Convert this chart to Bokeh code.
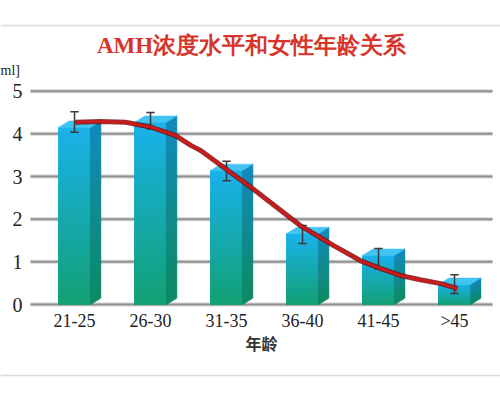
from bokeh.plotting import figure
from bokeh.models import Range1d, FixedTicker
from bokeh.core.properties import value
from bokeh.embed import file_html
from bokeh.resources import INLINE

# ---- data ----
categories = ["21-25", "26-30", "31-35", "36-40", "41-45", ">45"]
bar_values = [4.15, 4.27, 3.14, 1.66, 1.15, 0.47]
err_low = [4.04, 4.12, 2.90, 1.43, 0.84, 0.26]
err_high = [4.52, 4.50, 3.36, 1.85, 1.31, 0.70]
curve_pos = [0.01, 0.34, 0.67, 1.00, 1.33, 1.53, 1.66, 2.05, 2.32, 2.97,
             3.41, 3.76, 4.03, 4.29, 4.55, 4.82, 5.04]
curve_val = [4.27, 4.29, 4.27, 4.16, 3.96, 3.73, 3.61, 3.10, 2.75, 1.85,
             1.38, 1.03, 0.84, 0.68, 0.58, 0.49, 0.37]
y_ticks = [0, 1, 2, 3, 4, 5]
title_text = "AMH浓度水平和女性年龄关系"
x_title = "年龄"
unit_text = "ml]"

# ---- layout constants ----
X0, X1 = -0.974, 5.605
Y0, Y1 = -2.25, 7.125
AX_LEFT = -0.579
GRID_RIGHT = 5.5
HALF = 0.21
DX, DY = 0.135, 0.15
N = 40

p = figure(width=500, height=400, output_backend="svg", toolbar_location=None,
           x_range=Range1d(X0, X1), y_range=Range1d(Y0, Y1),
           min_border=0, outline_line_color=None)
p.xgrid.visible = False
p.ygrid.visible = False
p.background_fill_color = "white"
p.border_fill_color = "white"

# page rules
p.segment(x0=[X0, X0], y0=[6.539, -1.664], x1=[X1, X1], y1=[6.539, -1.664],
          line_color="#dcdcdc", line_width=1.5)

# grid lines
p.segment(x0=[AX_LEFT] * len(y_ticks), y0=y_ticks, x1=[GRID_RIGHT] * len(y_ticks),
          y1=y_ticks, line_color="#d4d4d4", line_width=4)
p.segment(x0=[AX_LEFT] * len(y_ticks), y0=y_ticks, x1=[GRID_RIGHT] * len(y_ticks),
          y1=y_ticks, line_color="#929292", line_width=2)


def mix(c1, c2, t):
    a = [int(c1[i:i + 2], 16) for i in (1, 3, 5)]
    b = [int(c2[i:i + 2], 16) for i in (1, 3, 5)]
    return "#%02x%02x%02x" % tuple(int(round(a[k] + (b[k] - a[k]) * t)) for k in range(3))


FRONT_BOT, FRONT_TOP = "#12a074", "#19b2ea"
SIDE_BOT, SIDE_TOP = "#0c8a62", "#118abb"
TOP_FACE = "#42c4f2"

fl, fr, fb, ft, fc = [], [], [], [], []
sx, sy, sc = [], [], []
tx, ty = [], []
for i, v in enumerate(bar_values):
    for k in range(N):
        b = v * k / N
        t = v * (k + 1) / N
        tt = (k + 0.5) / N
        fl.append(i - HALF); fr.append(i + HALF); fb.append(b); ft.append(t)
        fc.append(mix(FRONT_BOT, FRONT_TOP, tt))
        sx.append([i + HALF, i + HALF + DX, i + HALF + DX, i + HALF])
        sy.append([b, b + DY, t + DY, t])
        sc.append(mix(SIDE_BOT, SIDE_TOP, tt))
    tx.append([i - HALF, i + HALF, i + HALF + DX, i - HALF + DX])
    ty.append([v, v, v + DY, v + DY])

p.quad(left=fl, right=fr, bottom=fb, top=ft, fill_color=fc, line_color=fc, line_width=1)
p.patches(xs=sx, ys=sy, fill_color=sc, line_color=sc, line_width=1)
p.patches(xs=tx, ys=ty, fill_color=TOP_FACE, line_color=TOP_FACE, line_width=0.5)

# error bars
xs = list(range(len(categories)))
p.segment(x0=xs, y0=err_low, x1=xs, y1=err_high, line_color="#3a3a3a", line_width=1.5)
p.segment(x0=[x - 0.055 for x in xs], y0=err_high, x1=[x + 0.055 for x in xs], y1=err_high,
          line_color="#3a3a3a", line_width=1.5)
p.segment(x0=[x - 0.055 for x in xs], y0=err_low, x1=[x + 0.055 for x in xs], y1=err_low,
          line_color="#3a3a3a", line_width=1.5)

# trend curve
p.line(curve_pos, curve_val, line_color="#6a0808", line_width=5, line_alpha=0.8)
p.line(curve_pos, curve_val, line_color="#cc1a1a", line_width=3)

# title and unit
p.text(x=[2.33], y=[6.07], text=[title_text], text_align="center", text_baseline="middle",
       text_font=value("Liberation Serif"), text_font_style="bold",
       text_font_size="23px", text_color="#d7342a")
p.text(x=[X0], y=[5.48], text=[unit_text], text_align="left", text_baseline="middle",
       text_font=value("Liberation Serif"), text_font_size="14px", text_color="#222222")

# axes
p.xaxis.fixed_location = 0
p.xaxis.ticker = FixedTicker(ticks=xs)
p.xaxis.major_label_overrides = {i: c for i, c in enumerate(categories)}
p.xaxis.bounds = (AX_LEFT, GRID_RIGHT)
p.xaxis.axis_line_color = None
p.xaxis.major_tick_line_color = None
p.xaxis.minor_tick_line_color = None
p.xaxis.major_label_standoff = 0
p.xaxis.major_label_text_font = "Liberation Serif"
p.xaxis.major_label_text_font_size = "18px"
p.xaxis.major_label_text_color = "#222222"
p.xaxis.axis_label = x_title
p.xaxis.axis_label_standoff = -3
p.xaxis.axis_label_text_font = "Noto Sans CJK SC"
p.xaxis.axis_label_text_font_style = "bold"
p.xaxis.axis_label_text_font_size = "16px"
p.xaxis.axis_label_text_color = "#333333"

p.yaxis.fixed_location = AX_LEFT
p.yaxis.ticker = FixedTicker(ticks=y_ticks)
p.yaxis.bounds = (0, 5)
p.yaxis.axis_line_color = None
p.yaxis.major_tick_line_color = None
p.yaxis.minor_tick_line_color = None
p.yaxis.major_label_standoff = 2
p.yaxis.major_label_text_font = "Liberation Serif"
p.yaxis.major_label_text_font_size = "20px"
p.yaxis.major_label_text_color = "#222222"

open("out.html", "w").write(file_html(p, INLINE))
